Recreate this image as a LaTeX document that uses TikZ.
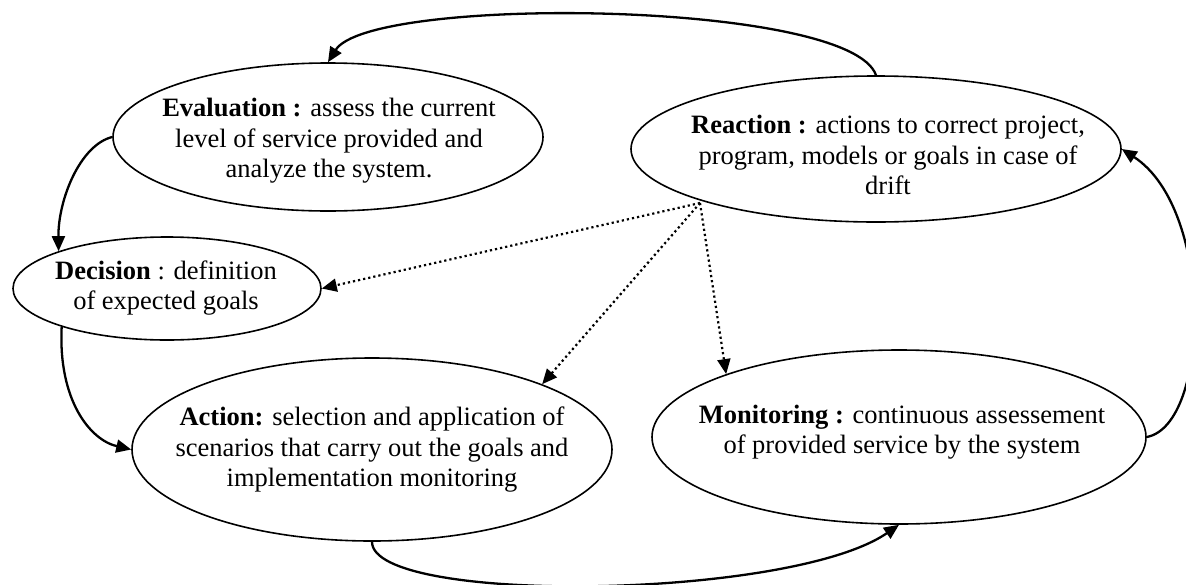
\documentclass[tikz,border=0pt]{standalone}
\usepackage{fontspec}
\setmainfont{Liberation Serif}
\usetikzlibrary{shapes.geometric,arrows.meta}

\tikzset{
  bubble/.style={ellipse, draw, line width=1.6pt, inner sep=0pt},
  txt/.style={align=center, inner sep=0pt, font=\fontsize{26.5}{30.5}\selectfont},
  tip/.style={-{Triangle[length=15pt,width=13pt]}},
  link/.style={line width=2.3pt, tip},
  hint/.style={line width=2.2pt, dash pattern=on 2.2pt off 3pt, tip},
}

\begin{document}
\begin{tikzpicture}[x=1pt, y=-1pt]
  \useasboundingbox[fill=white] (0,0) rectangle (1186,584);

  % the five stages of the cycle
  \node[bubble, minimum width=430pt, minimum height=148pt] (eval) at (328,137) {};
  \node[bubble, minimum width=308pt, minimum height=103pt] (dec)  at (167,288.5) {};
  \node[bubble, minimum width=490pt, minimum height=146pt] (reac) at (876,149) {};
  \node[bubble, minimum width=480pt, minimum height=183pt] (act)  at (372,449.5) {};
  \node[bubble, minimum width=494pt, minimum height=174pt] (mon)  at (899,437) {};

  % their descriptions
  \node[txt] (evalt) at (329,141) {\textbf{Evaluation :} assess the current\\level of service provided and\\analyze the system.};
  \node[txt] (dect)  at (166,288) {\textbf{Decision} : definition\\of expected goals};
  \node[txt] (react) at (888,155) {\textbf{Reaction :} actions to correct project,\\program, models or goals in case of\\drift};
  \node[txt] (actt)  at (372,450) {\textbf{Action:} selection and application of\\scenarios that carry out the goals and\\implementation monitoring};
  \node[txt] (mont)  at (902,432) {\textbf{Monitoring :} continuous assessement\\of provided service by the system};

  % main loop
  \draw[link] (reac.north) .. controls (850,0) and (370,-5) .. (eval.north);
  \draw[link] (eval.west) .. controls (80,145) and (58,200) .. (dec.161);
  \draw[link] (dec.200) .. controls (58,400) and (90,440) .. (act.west);
  \draw[link] (act.south) .. controls (372,605) and (790,600) .. (mon.south);
  \draw[link] (mon.east) .. controls (1210,425) and (1215,210) .. (reac.east);

  % corrective feedback from the reaction stage
  \coordinate (fb) at (700,203);
  \draw[hint] (fb) -- (dec.east);
  \draw[hint] (fb) -- (act.21);
  \draw[hint] (fb) -- (mon.160);
\end{tikzpicture}
\end{document}
